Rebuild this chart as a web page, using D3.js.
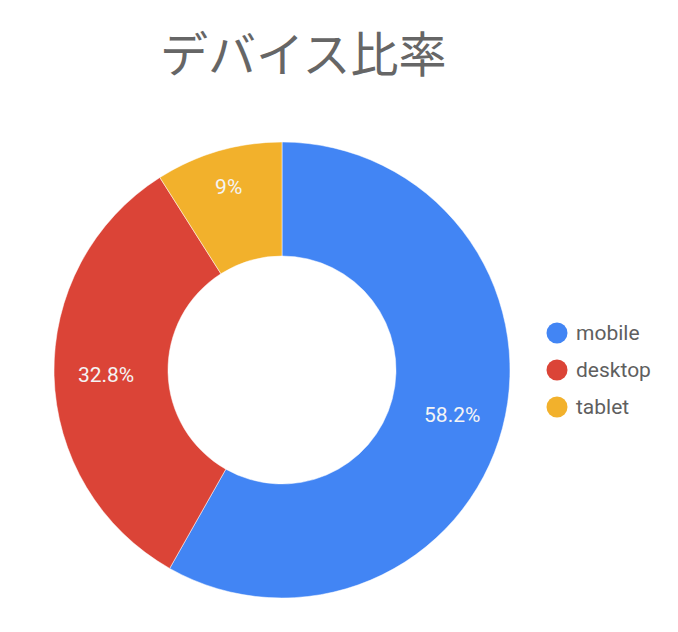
<!DOCTYPE html>
<html>
<head>
    <meta charset="UTF-8">
    <title>デバイス比率</title>
    <script src="https://d3js.org/d3.v7.min.js"></script>
    <style type="text/css">
      body{
        margin: 0;
        background-color: white;
      }
    </style>
</head>
<body>
    <svg id="chart"></svg>

    <script>
        const title = "デバイス比率";
        const categories = ["mobile", "desktop", "tablet"];
        const values = [58.2, 32.8, 9.0];
        const valueLabels = ["58.2%", "32.8%", "9%"];
        const colors = ["#4285f4", "#db4437", "#f2b12c"];

        const width = 678;
        const height = 632;
        const cx = 282, cy = 370;
        const outer = 228, inner = 114;

        const svg = d3.select("#chart")
          .attr("width", width)
          .attr("height", height);

        svg.append("text")
          .attr("x", 160)
          .attr("y", 72)
          .style("font-family", "'Noto Sans CJK JP', 'Noto Sans', sans-serif")
          .style("font-size", "48px")
          .style("fill", "#666666")
          .text(title);

        const data = categories.map((c, i) => ({name: c, value: values[i], label: valueLabels[i]}));

        const color = d3.scaleOrdinal()
          .domain(categories)
          .range(colors);

        const pie = d3.pie()
          .sort(null)
          .value((d) => d.value);

        const arc = d3.arc()
          .innerRadius(inner)
          .outerRadius(outer);

        // labels sit a bit outside the ring middle; narrow slices get pushed further out
        const labelArc = d3.arc().innerRadius(176).outerRadius(176);
        const narrowArc = d3.arc().innerRadius(191).outerRadius(191);

        const g = svg.append("g")
          .attr("transform", `translate(${cx}, ${cy})`);

        const arcs = pie(data);

        g.selectAll("path")
          .data(arcs)
          .enter()
          .append("path")
          .attr("d", arc)
          .style("fill", (d) => color(d.data.name))
          .style("stroke", "white")
          .style("stroke-width", 0.5);

        g.selectAll("text")
          .data(arcs)
          .enter()
          .append("text")
          .attr("transform", (d) => {
            const a = (d.endAngle - d.startAngle) < 0.8 ? narrowArc : labelArc;
            return `translate(${a.centroid(d)})`;
          })
          .attr("text-anchor", "middle")
          .attr("dy", "0.35em")
          .style("font-family", "Roboto, sans-serif")
          .style("font-size", "21px")
          .style("fill", "#f4f4f4")
          .text((d) => d.data.label);

        // legend
        const legendY = d3.scalePoint()
          .domain(categories)
          .range([333, 407]);

        const legend = svg.append("g");

        legend.selectAll("circle")
          .data(categories)
          .enter()
          .append("circle")
          .attr("cx", 557)
          .attr("cy", (d) => legendY(d))
          .attr("r", 10.5)
          .style("fill", (d) => color(d));

        legend.selectAll("text")
          .data(categories)
          .enter()
          .append("text")
          .attr("x", 576)
          .attr("y", (d) => legendY(d))
          .attr("dy", "0.35em")
          .style("font-family", "Roboto, sans-serif")
          .style("font-size", "21px")
          .style("fill", "#5f5f5f")
          .text((d) => d);
    </script>
</body>
</html>
